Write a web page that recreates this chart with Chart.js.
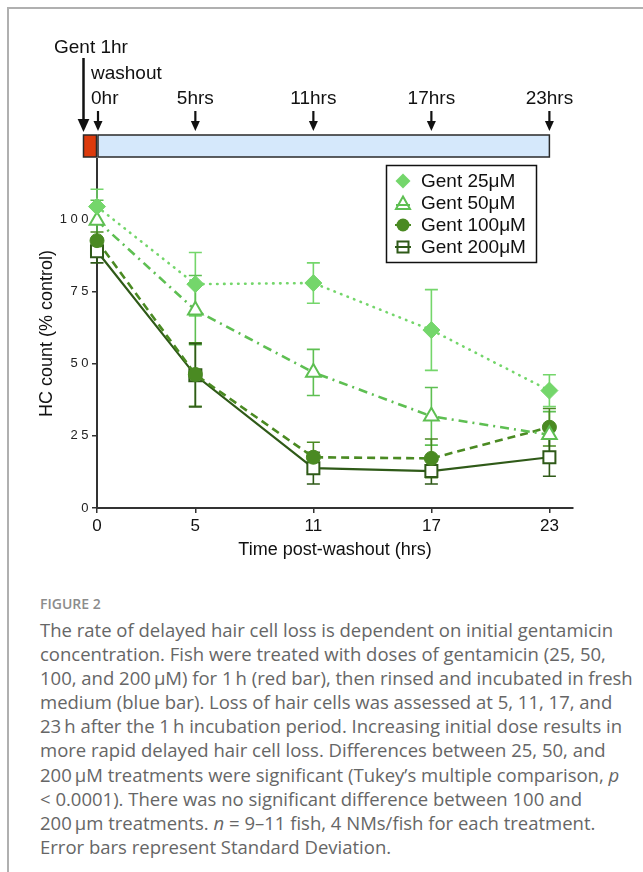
<!DOCTYPE html>
<html>
<head>
<meta charset="utf-8">
<script src="https://cdn.jsdelivr.net/npm/chart.js@4.4.1/dist/chart.umd.min.js"></script>
<style>
  html, body { margin: 0; padding: 0; background: #fff; width: 643px; height: 872px; overflow: hidden; }
  #frame { position: absolute; left: 7px; top: 7px; width: 800px; height: 1000px; border-left: 2px solid #b0b0b0; border-top: 2px solid #b0b0b0; }
  #chart { position: absolute; left: 0; top: 0; }
  .fig { position: absolute; left: 40px; top: 594px; font-family: "Open Sans", sans-serif; font-size: 14px; font-weight: 600; line-height: 20px; color: #8c8c8c; }
  .caption { position: absolute; left: 40px; top: 618px; font-family: "Open Sans", sans-serif; font-size: 18.5px; line-height: 24.1px; color: #666; white-space: nowrap; }
</style>
</head>
<body>
<div id="frame"></div>
<canvas id="chart" width="643" height="570"></canvas>
<div class="fig">FIGURE 2</div>
<div class="caption">
The rate of delayed hair cell loss is dependent on initial gentamicin<br>
concentration. Fish were treated with doses of gentamicin (25, 50,<br>
100, and 200&thinsp;μM) for 1&thinsp;h (red bar), then rinsed and incubated in fresh<br>
medium (blue bar). Loss of hair cells was assessed at 5, 11, 17, and<br>
23&thinsp;h after the 1&thinsp;h incubation period. Increasing initial dose results in<br>
more rapid delayed hair cell loss. Differences between 25, 50, and<br>
200&thinsp;μM treatments were significant (Tukey’s multiple comparison, <i>p</i><br>
&lt; 0.0001). There was no significant difference between 100 and<br>
200&thinsp;μm treatments. <i>n</i> = 9–11 fish, 4 NMs/fish for each treatment.<br>
Error bars represent Standard Deviation.
</div>
<script>
// time points (hrs after washout) and timeline labels
const hours = [0, 5, 11, 17, 23];
const timeLabels = ['0hr', '5hrs', '11hrs', '17hrs', '23hrs'];
const yTicks = [0, 25, 50, 75, 100];

// HC count (% control), mean and SD
const gent25 = [104.5, 77.6, 78.0, 61.7, 40.7];
const sd25 = [6, 11, 7, 14, 5.5];
const gent50 = [99.7, 68.6, 47.0, 31.8, 25.4];
const sd50 = [7, 12, 8, 10, 8];
const gent100 = [92.7, 46.3, 17.6, 17.2, 28.0];
const sd100 = [3, 11, 5.2, 6.7, 6.5];
const gent200 = [89.0, 46.0, 13.8, 12.8, 17.6];
const sd200 = [4, 11, 5.5, 4.5, 6.6];

const seriesNames = ['Gent 25μM', 'Gent 50μM', 'Gent 100μM', 'Gent 200μM'];
const colors = ['#74d66b', '#5ebf52', '#4a8a22', '#2f5a18'];

const pts = arr => hours.map((h, i) => ({ x: h, y: arr[i] }));

const errorBars = {
    id: 'errorBars',
    beforeDatasetsDraw(chart) {
        const ctx = chart.ctx, ys = chart.scales.y;
        chart.data.datasets.forEach((ds, di) => {
            const meta = chart.getDatasetMeta(di);
            ctx.save();
            ctx.strokeStyle = ds.borderColor;
            ctx.lineWidth = 1.6;
            meta.data.forEach((p, i) => {
                const v = ds.data[i].y, s = ds.sd[i];
                const top = ys.getPixelForValue(v + s), bot = ys.getPixelForValue(v - s);
                ctx.beginPath();
                ctx.moveTo(p.x, top); ctx.lineTo(p.x, bot);
                ctx.moveTo(p.x - 6.5, top); ctx.lineTo(p.x + 6.5, top);
                ctx.moveTo(p.x - 6.5, bot); ctx.lineTo(p.x + 6.5, bot);
                ctx.stroke();
            });
            ctx.restore();
        });
    }
};

function arrow(ctx, x, y1, y2, head, w) {
    ctx.beginPath();
    ctx.moveTo(x, y1); ctx.lineTo(x, y2 - head + 1);
    ctx.lineWidth = w; ctx.stroke();
    ctx.beginPath();
    ctx.moveTo(x - head * 0.45, y2 - head); ctx.lineTo(x + head * 0.45, y2 - head); ctx.lineTo(x, y2);
    ctx.closePath(); ctx.fill();
}

const timeline = {
    id: 'timeline',
    afterDraw(chart) {
        const ctx = chart.ctx, xs = chart.scales.x;
        const x0 = xs.getPixelForValue(0), xEnd = xs.getPixelForValue(hours[hours.length - 1]);
        ctx.save();
        // red (gentamicin) and blue (washout) bars
        ctx.lineWidth = 1.5;
        ctx.strokeStyle = '#2a2a2a';
        ctx.fillStyle = '#dc3a0c';
        ctx.fillRect(x0 - 13.5, 135, 13, 22);
        ctx.strokeRect(x0 - 13.5, 135, 13, 22);
        ctx.fillStyle = '#d5e8fb';
        ctx.fillRect(x0 + 1, 135, xEnd - x0 - 1, 22);
        ctx.strokeRect(x0 + 1, 135, xEnd - x0 - 1, 22);
        // arrows
        ctx.fillStyle = '#111'; ctx.strokeStyle = '#111';
        arrow(ctx, x0 - 13.5, 58, 132, 13, 2.5);
        hours.forEach(h => arrow(ctx, xs.getPixelForValue(h) + (h === 0 ? 1 : 0), 111, 131, 10, 2.2));
        // labels
        ctx.font = '19px "Liberation Sans", Arial, sans-serif';
        ctx.textBaseline = 'middle';
        ctx.textAlign = 'left';
        ctx.fillText('Gent 1hr', 54, 48);
        ctx.fillText('washout', 91, 74);
        hours.forEach((h, i) => {
            if (i === 0) { ctx.textAlign = 'left'; ctx.fillText(timeLabels[i], 91, 99); }
            else { ctx.textAlign = 'center'; ctx.fillText(timeLabels[i], xs.getPixelForValue(h), 99); }
        });
        // legend box
        ctx.lineWidth = 1.5;
        ctx.strokeStyle = '#111';
        ctx.strokeRect(386.5, 165.5, 150, 97);
        chart.data.datasets.forEach((ds, i) => {
            const cy = 181 + i * 22, cx = 403;
            ctx.strokeStyle = ds.borderColor; ctx.fillStyle = ds.borderColor;
            ctx.lineWidth = 2;
            if (i === 0) {
                ctx.beginPath();
                ctx.moveTo(cx, cy - 7.5); ctx.lineTo(cx + 7.5, cy); ctx.lineTo(cx, cy + 7.5); ctx.lineTo(cx - 7.5, cy);
                ctx.closePath(); ctx.fill();
            } else if (i === 1) {
                ctx.beginPath(); ctx.moveTo(cx - 7, cy + 2); ctx.lineTo(cx + 7, cy + 2); ctx.stroke();
                ctx.beginPath();
                ctx.moveTo(cx, cy - 6.5); ctx.lineTo(cx + 7, cy + 6); ctx.lineTo(cx - 7, cy + 6);
                ctx.closePath(); ctx.stroke();
            } else if (i === 2) {
                ctx.beginPath(); ctx.moveTo(cx - 8, cy); ctx.lineTo(cx + 8, cy); ctx.stroke();
                ctx.beginPath(); ctx.arc(cx, cy, 6.5, 0, Math.PI * 2); ctx.fill();
            } else {
                ctx.beginPath(); ctx.moveTo(cx - 8, cy); ctx.lineTo(cx + 8, cy); ctx.stroke();
                ctx.strokeRect(cx - 5.5, cy - 5.5, 11, 11);
            }
            ctx.fillStyle = '#111';
            ctx.textAlign = 'left';
            ctx.font = '19px "Liberation Sans", Arial, sans-serif';
            ctx.fillText(seriesNames[i], 421, cy + 1);
        });
        ctx.restore();
    }
};

const spacedY = {
    id: 'spacedY',
    beforeDraw(chart) {
        const s = chart.scales.y;
        if (s._spaced) return;
        const orig = Object.getPrototypeOf(s).drawLabels;
        s.drawLabels = function (area) {
            this.ctx.save();
            this.ctx.letterSpacing = '3.5px';
            orig.call(this, area);
            this.ctx.restore();
        };
        s._spaced = true;
    }
};

const axisFont = '"Liberation Sans", Arial, sans-serif';

new Chart(document.getElementById('chart').getContext('2d'), {
    type: 'line',
    data: {
        datasets: [
            { label: seriesNames[0], data: pts(gent25), sd: sd25, borderColor: colors[0], backgroundColor: colors[0],
              pointStyle: 'rectRot', pointRadius: 8.5, pointBackgroundColor: colors[0], pointBorderWidth: 1,
              borderWidth: 2.6, borderDash: [0.5, 6.5], borderCapStyle: 'round' },
            { label: seriesNames[1], data: pts(gent50), sd: sd50, borderColor: colors[1], backgroundColor: '#fff',
              pointStyle: 'triangle', pointRadius: 8.5, pointBackgroundColor: '#fff', pointBorderWidth: 2,
              borderWidth: 2.6, borderDash: [9, 5, 2, 5] },
            { label: seriesNames[2], data: pts(gent100), sd: sd100, borderColor: colors[2], backgroundColor: colors[2],
              pointStyle: 'circle', pointRadius: 7, pointBackgroundColor: colors[2], pointBorderWidth: 1,
              borderWidth: 2.6, borderDash: [8, 5] },
            { label: seriesNames[3], data: pts(gent200), sd: sd200, borderColor: colors[3], backgroundColor: '#fff',
              pointStyle: 'rect', pointRadius: 8.5, pointBackgroundColor: '#fff', pointBorderWidth: 2,
              borderWidth: 2.2 }
        ]
    },
    options: {
        responsive: false,
        animation: false,
        devicePixelRatio: 1,
        clip: false,
        layout: { padding: { top: 159, right: 70, left: 0, bottom: 0 } },
        plugins: { legend: { display: false }, tooltip: { enabled: false } },
        elements: { line: { tension: 0 } },
        scales: {
            x: {
                type: 'linear', min: 0, max: 24.2,
                afterBuildTicks: s => { s.ticks = hours.map(v => ({ value: v })); },
                afterFit: s => { s.height = 62; },
                border: { display: true, color: '#333', width: 2 },
                grid: { display: true, drawOnChartArea: false, drawTicks: true, tickLength: 5, color: '#333', lineWidth: 1.5 },
                ticks: { color: '#111', font: { family: axisFont, size: 17 }, padding: 3, maxRotation: 0 },
                title: { display: true, text: 'Time post-washout (hrs)', color: '#111',
                         font: { family: axisFont, size: 18 }, padding: { top: 0, bottom: 9 } }
            },
            y: {
                type: 'linear', min: 0, max: 121,
                afterBuildTicks: s => { s.ticks = yTicks.map(v => ({ value: v })); },
                afterFit: s => { s.width = 97; },
                border: { display: true, color: '#333', width: 2 },
                grid: { display: true, drawOnChartArea: false, drawTicks: true, tickLength: 5, color: '#333', lineWidth: 1.5 },
                ticks: { color: '#222', font: { family: axisFont, size: 13 }, padding: 0 },
                title: { display: true, text: 'HC count (% control)', color: '#111',
                         font: { family: axisFont, size: 18 }, padding: { top: 36, bottom: 0 } }
            }
        }
    },
    plugins: [errorBars, timeline, spacedY]
});
</script>
</body>
</html>
